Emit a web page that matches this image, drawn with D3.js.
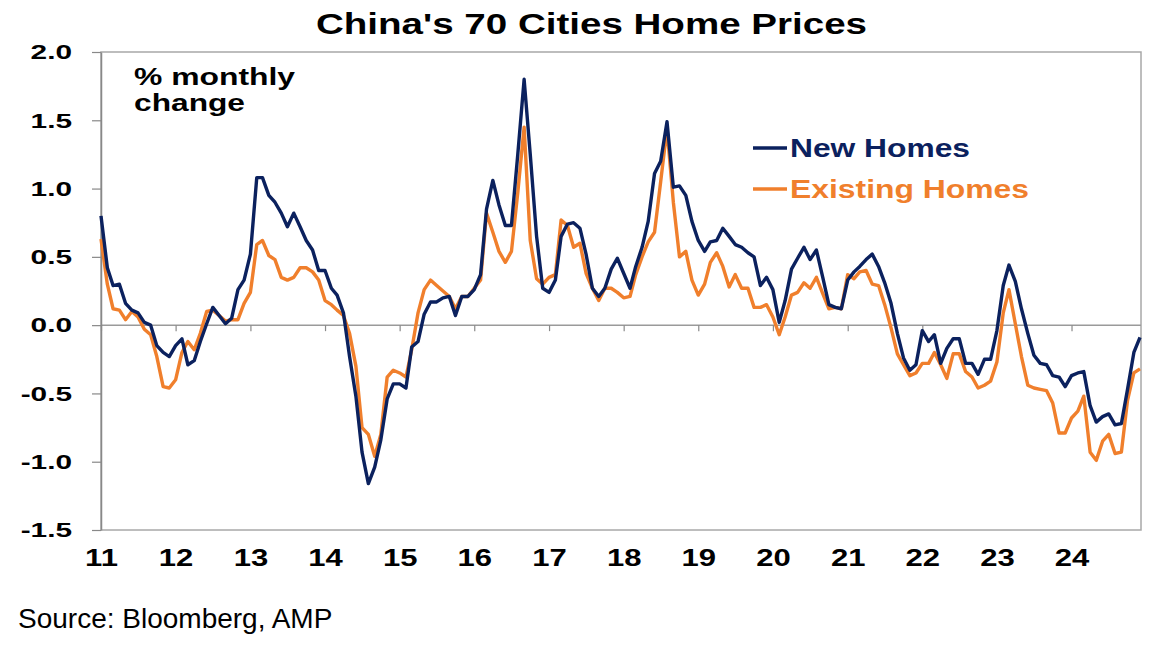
<!DOCTYPE html>
<html>
<head>
<meta charset="utf-8">
<script src="https://cdn.jsdelivr.net/npm/d3@7"></script>
<style>
  body { margin: 0; background: #fff; }
  text { font-family: "Liberation Sans", Arial, sans-serif; }
</style>
</head>
<body>
<svg id="chart" width="1172" height="654"></svg>
<script>

// monthly % change, Jan 2011 .. Dec 2024 (one row per year)
var newHomes = [
  0.80, 0.42, 0.29, 0.30, 0.16, 0.11, 0.09, 0.02, 0.00, -0.15, -0.20, -0.23,
  -0.15, -0.10, -0.29, -0.26, -0.12, 0.01, 0.13, 0.07, 0.01, 0.05, 0.26, 0.33,
  0.52, 1.08, 1.08, 0.95, 0.90, 0.82, 0.72, 0.82, 0.72, 0.62, 0.55, 0.40,
  0.40, 0.27, 0.22, 0.09, -0.23, -0.52, -0.93, -1.16, -1.04, -0.84, -0.54, -0.43,
  -0.43, -0.46, -0.16, -0.12, 0.08, 0.17, 0.17, 0.20, 0.21, 0.07, 0.21, 0.21,
  0.26, 0.37, 0.85, 1.06, 0.88, 0.73, 0.73, 1.25, 1.80, 1.25, 0.65, 0.27,
  0.24, 0.33, 0.65, 0.74, 0.75, 0.71, 0.52, 0.27, 0.21, 0.27, 0.41, 0.49,
  0.38, 0.27, 0.43, 0.57, 0.76, 1.11, 1.20, 1.49, 1.01, 1.02, 0.95, 0.76,
  0.62, 0.54, 0.61, 0.62, 0.71, 0.65, 0.59, 0.57, 0.53, 0.50, 0.29, 0.35,
  0.26, 0.02, 0.18, 0.41, 0.49, 0.57, 0.48, 0.55, 0.35, 0.15, 0.13, 0.12,
  0.33, 0.39, 0.43, 0.48, 0.52, 0.43, 0.31, 0.16, -0.06, -0.24, -0.33, -0.29,
  -0.04, -0.12, -0.07, -0.28, -0.17, -0.10, -0.10, -0.28, -0.28, -0.36, -0.25, -0.25,
  -0.04, 0.29, 0.44, 0.32, 0.12, -0.06, -0.22, -0.28, -0.29, -0.37, -0.38, -0.45,
  -0.37, -0.35, -0.34, -0.59, -0.71, -0.67, -0.65, -0.73, -0.72, -0.47, -0.20, -0.09
];

var existingHomes = [
  0.63, 0.30, 0.12, 0.11, 0.04, 0.10, 0.06, -0.03, -0.07, -0.23, -0.45, -0.46,
  -0.40, -0.20, -0.12, -0.18, -0.06, 0.10, 0.11, 0.07, 0.03, 0.04, 0.04, 0.16,
  0.24, 0.59, 0.62, 0.51, 0.48, 0.35, 0.33, 0.35, 0.42, 0.42, 0.39, 0.33,
  0.18, 0.15, 0.11, 0.07, -0.06, -0.30, -0.75, -0.80, -0.96, -0.80, -0.38, -0.33,
  -0.35, -0.38, -0.18, 0.09, 0.26, 0.33, 0.29, 0.25, 0.21, 0.12, 0.21, 0.21,
  0.27, 0.33, 0.82, 0.68, 0.54, 0.46, 0.54, 0.97, 1.45, 0.62, 0.34, 0.30,
  0.35, 0.37, 0.77, 0.73, 0.57, 0.60, 0.38, 0.27, 0.18, 0.27, 0.27, 0.24,
  0.20, 0.21, 0.37, 0.50, 0.61, 0.68, 1.05, 1.44, 0.90, 0.50, 0.54, 0.33,
  0.22, 0.30, 0.46, 0.53, 0.43, 0.28, 0.37, 0.27, 0.27, 0.13, 0.13, 0.15,
  0.06, -0.07, 0.06, 0.22, 0.24, 0.31, 0.27, 0.35, 0.23, 0.12, 0.13, 0.12,
  0.37, 0.34, 0.39, 0.40, 0.30, 0.29, 0.15, -0.02, -0.21, -0.29, -0.37, -0.35,
  -0.28, -0.28, -0.20, -0.29, -0.39, -0.21, -0.21, -0.34, -0.38, -0.46, -0.44, -0.41,
  -0.27, 0.09, 0.26, 0.01, -0.23, -0.44, -0.46, -0.47, -0.48, -0.57, -0.79, -0.79,
  -0.68, -0.63, -0.52, -0.93, -0.99, -0.85, -0.80, -0.94, -0.93, -0.55, -0.35, -0.32
];

var seriesNames = ["New Homes", "Existing Homes"];
var seriesColors = ["#0b215e", "#f07f2c"];
var yTicks = [-1.5, -1.0, -0.5, 0.0, 0.5, 1.0, 1.5, 2.0];
var yearTicks = ["11", "12", "13", "14", "15", "16", "17", "18", "19", "20", "21", "22", "23", "24"];

var months = d3.timeMonth.range(new Date(2011, 0, 1), new Date(2025, 0, 1));

var svg = d3.select("#chart");
var plotLeft = 101, plotRight = 1141, plotTop = 52, plotBottom = 530;
var stretch = 1.35;   // the original picture is widened, so is its text

var x = d3.scaleTime()
    .domain([new Date(2011, 0, 1), new Date(2024, 11, 1)])
    .range([plotLeft, plotRight - 1]);

var y = d3.scaleLinear()
    .domain([-1.5, 2.0])
    .range([plotBottom, plotTop]);

svg.append("rect")
    .attr("width", 1172).attr("height", 654)
    .attr("fill", "#fff");

// plot frame
svg.append("rect")
    .attr("x", plotLeft).attr("y", plotTop)
    .attr("width", plotRight - plotLeft).attr("height", plotBottom - plotTop)
    .attr("fill", "none")
    .attr("stroke", "#a8a8a8")
    .attr("stroke-width", 1.5);

// zero line with year ticks
var years = yearTicks.map(function(d) { return new Date(2000 + +d, 0, 1); });

var zeroAxis = svg.append("g")
    .attr("transform", "translate(0," + y(0) + ")")
    .call(d3.axisBottom(x).tickValues(years).tickSize(6).tickFormat("").tickSizeOuter(0));
zeroAxis.select(".domain").attr("stroke", "#9a9a9a").attr("stroke-width", 1.5)
    .attr("d", "M" + plotLeft + ",0H" + plotRight);
zeroAxis.selectAll(".tick line").attr("stroke", "#8a8a8a").attr("stroke-width", 1.2);

// year labels under the frame
var xLabels = svg.append("g")
    .attr("transform", "translate(0," + plotBottom + ")")
    .call(d3.axisBottom(x).tickValues(years).tickSize(0).tickPadding(20)
      .tickFormat(function(d, i) { return yearTicks[i]; }));
xLabels.select(".domain").remove();
xLabels.selectAll("text")
    .attr("font-size", 23)
    .attr("font-weight", "bold")
    .attr("font-family", "'Liberation Sans', Arial, sans-serif")
    .attr("fill", "#000")
    .attr("transform", "scale(" + stretch + ",1)");

// value axis
var yAxis = svg.append("g")
    .attr("transform", "translate(" + plotLeft + ",0)")
    .call(d3.axisLeft(y).tickValues(yTicks).tickSize(9).tickSizeOuter(0)
      .tickFormat(function(d) { return d.toFixed(1); }));
yAxis.select(".domain").attr("stroke", "#888").attr("stroke-width", 1.5);
yAxis.selectAll(".tick line").attr("stroke", "#888").attr("stroke-width", 1.2);
yAxis.selectAll("text")
    .attr("font-size", 21)
    .attr("font-weight", "bold")
    .attr("font-family", "'Liberation Sans', Arial, sans-serif")
    .attr("fill", "#000")
    .attr("x", -29 / 1.42)
    .attr("transform", "scale(1.42,1)");

// series
var line = d3.line()
    .x(function(d, i) { return x(months[i]); })
    .y(function(d) { return y(d); });

[existingHomes, newHomes].forEach(function(values, k) {
  svg.append("path")
      .datum(values)
      .attr("fill", "none")
      .attr("stroke", seriesColors[1 - k])
      .attr("stroke-width", 3.4)
      .attr("stroke-linejoin", "round")
      .attr("d", line);
});

// legend
var legendY = [148, 189];
var legendLen = [180, 239];
seriesNames.forEach(function(name, i) {
  svg.append("line")
      .attr("x1", 753).attr("x2", 787)
      .attr("y1", legendY[i]).attr("y2", legendY[i])
      .attr("stroke", seriesColors[i])
      .attr("stroke-width", 3.4);
  svg.append("text")
      .attr("x", 790).attr("y", legendY[i] + 9)
      .attr("font-size", 25)
      .attr("font-weight", "bold")
      .attr("fill", seriesColors[i])
      .attr("textLength", legendLen[i])
      .attr("lengthAdjust", "spacingAndGlyphs")
      .text(name);
});

// unit note
svg.append("text")
    .attr("x", 134).attr("y", 85)
    .attr("font-size", 23).attr("font-weight", "bold")
    .attr("textLength", 161).attr("lengthAdjust", "spacingAndGlyphs")
    .text("% monthly");
svg.append("text")
    .attr("x", 134).attr("y", 111)
    .attr("font-size", 23).attr("font-weight", "bold")
    .attr("textLength", 111).attr("lengthAdjust", "spacingAndGlyphs")
    .text("change");

// title
svg.append("text")
    .attr("x", 316).attr("y", 34)
    .attr("font-size", 29).attr("font-weight", "bold")
    .attr("textLength", 551).attr("lengthAdjust", "spacingAndGlyphs")
    .text("China's 70 Cities Home Prices");

svg.append("text")
    .attr("x", 18).attr("y", 628)
    .attr("font-size", 28)
    .text("Source: Bloomberg, AMP");

</script>
</body>
</html>
